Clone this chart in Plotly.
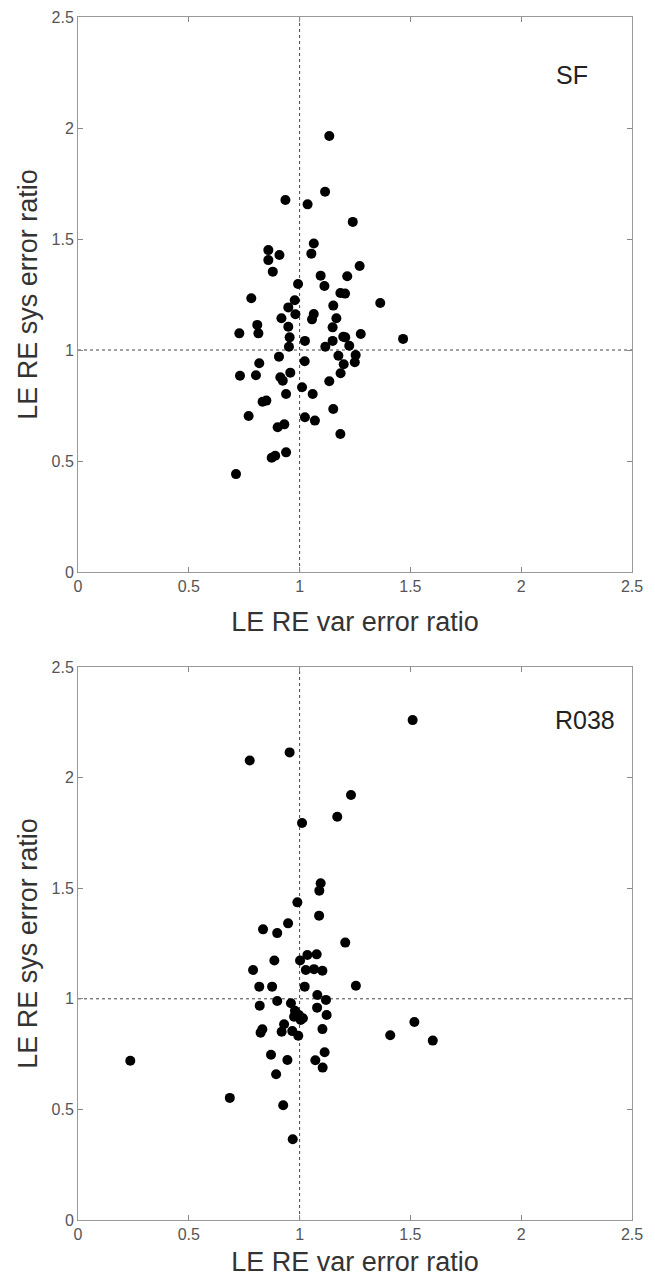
import plotly.graph_objects as go

# ---- Data: SF panel ----
sf_x = [1.134, 1.115, 0.936, 1.036, 1.240, 0.859, 1.064, 0.909, 1.053, 0.859,
        0.879, 1.271, 1.095, 1.215, 0.993, 1.112, 1.184, 1.205, 0.782, 0.978,
        1.152, 1.364, 0.949, 0.981, 1.064, 1.056, 0.918, 1.166, 0.809, 0.949,
        1.149, 0.728, 0.814, 0.955, 1.024, 1.197, 1.206, 1.276, 1.467, 1.149,
        0.952, 1.116, 1.224, 0.907, 1.175, 1.253, 0.818, 1.023, 1.199, 1.249,
        0.731, 0.803, 0.913, 0.924, 0.958, 1.185, 1.134, 1.011, 0.939, 1.059,
        0.833, 0.850, 1.152, 0.770, 1.024, 1.069, 0.901, 0.931, 1.184, 0.874,
        0.890, 0.939, 0.713]
sf_y = [1.964, 1.713, 1.676, 1.656, 1.577, 1.450, 1.480, 1.428, 1.434, 1.405,
        1.353, 1.378, 1.335, 1.332, 1.297, 1.288, 1.257, 1.254, 1.233, 1.224,
        1.200, 1.212, 1.192, 1.161, 1.162, 1.138, 1.143, 1.143, 1.113, 1.105,
        1.102, 1.075, 1.075, 1.057, 1.041, 1.060, 1.057, 1.072, 1.050, 1.041,
        1.015, 1.015, 1.019, 0.970, 0.974, 0.977, 0.940, 0.949, 0.936, 0.945,
        0.884, 0.886, 0.877, 0.862, 0.898, 0.895, 0.859, 0.832, 0.802, 0.802,
        0.767, 0.772, 0.734, 0.703, 0.697, 0.682, 0.652, 0.665, 0.622, 0.515,
        0.524, 0.539, 0.441]

# ---- Data: R038 panel ----
r038_x = [1.510, 0.955, 0.775, 1.232, 1.170, 1.011, 1.095, 1.089, 0.990, 1.088,
          0.948, 0.835, 0.899, 1.206, 1.035, 1.077, 1.002, 0.886, 0.790, 1.028,
          1.065, 1.103, 1.254, 0.818, 0.876, 1.023, 1.080, 1.119, 0.899, 0.961,
          0.820, 1.079, 0.979, 0.997, 1.015, 0.975, 1.005, 1.122, 0.930, 0.832,
          0.824, 0.919, 0.967, 0.994, 1.103, 1.409, 1.518, 1.601, 0.871, 1.113,
          0.945, 1.071, 1.104, 0.894, 0.685, 0.926, 0.969, 0.236]
r038_y = [2.260, 2.114, 2.077, 1.921, 1.823, 1.795, 1.522, 1.489, 1.436, 1.376,
          1.341, 1.314, 1.297, 1.254, 1.198, 1.201, 1.173, 1.173, 1.130, 1.130,
          1.134, 1.127, 1.059, 1.055, 1.055, 1.055, 1.017, 0.995, 0.990, 0.980,
          0.969, 0.960, 0.946, 0.927, 0.912, 0.919, 0.904, 0.927, 0.885, 0.862,
          0.847, 0.851, 0.854, 0.833, 0.863, 0.835, 0.895, 0.811, 0.747, 0.758,
          0.723, 0.722, 0.689, 0.659, 0.552, 0.519, 0.365, 0.720]

tick_vals = [0, 0.5, 1, 1.5, 2, 2.5]
tick_text = ["0", "0.5", "1", "1.5", "2", "2.5"]
panel_labels = ["SF", "R038"]
x_title = "LE RE var error ratio"
y_title = "LE RE sys error ratio"

W, H = 655, 1277
left_px, right_px = 78, 632          # plot box edges on the page
top_px, bottom_px = 17, 1220
top_panel_bottom, bottom_panel_top = 572, 667
ML, MR, MT, MB = left_px, W - right_px, top_px, H - bottom_px
plot_h = H - MT - MB
top_dom = [(bottom_px - top_panel_bottom) / plot_h, 1.0]
bot_dom = [0.0, (bottom_px - bottom_panel_top) / plot_h]

fig = go.Figure()
marker = dict(color="black", size=10, line=dict(width=0))
fig.add_trace(go.Scatter(x=sf_x, y=sf_y, mode="markers", marker=marker,
                         xaxis="x", yaxis="y", showlegend=False))
fig.add_trace(go.Scatter(x=r038_x, y=r038_y, mode="markers", marker=marker,
                         xaxis="x2", yaxis="y2", showlegend=False))

tick_font = dict(family="Liberation Sans Narrow, Liberation Sans, Arial", size=16, color="#555555")
title_font = dict(family="Liberation Sans, Arial", size=27, color="#333333")


def ax(anchor, domain, title_text, standoff):
    return dict(
        range=[0, 2.5], domain=domain, anchor=anchor,
        tickvals=tick_vals, ticktext=tick_text,
        ticks="inside", ticklen=5, tickcolor="#888888", tickwidth=1,
        showline=True, linecolor="#999999", linewidth=1, mirror="allticks",
        showgrid=False, zeroline=False, tickfont=tick_font, automargin=False,
        title=dict(text=title_text, font=title_font, standoff=standoff),
        fixedrange=True,
    )


fig.update_layout(
    template="none",
    width=W, height=H,
    margin=dict(l=ML, r=MR, t=MT, b=MB, autoexpand=False),
    paper_bgcolor="white", plot_bgcolor="white",
    xaxis=ax("y", [0, 1], x_title, 17),
    yaxis=ax("x", top_dom, y_title, 6),
    xaxis2=ax("y2", [0, 1], x_title, 12),
    yaxis2=ax("x2", bot_dom, y_title, 6),
)

for xr, yr in [("x", "y"), ("x2", "y2")]:
    fig.add_shape(type="line", xref=xr, yref=yr, x0=1, x1=1, y0=0, y1=2.5,
                  line=dict(color="#444444", width=1, dash="dot"), layer="below")
    fig.add_shape(type="line", xref=xr, yref=yr, x0=0, x1=2.5, y0=1, y1=1,
                  line=dict(color="#444444", width=1, dash="dot"), layer="below")

label_font = dict(family="Liberation Sans, Arial", size=25, color="#222222")
fig.add_annotation(x=2.23, y=2.24, xref="x", yref="y", text=panel_labels[0],
                   showarrow=False, font=label_font)
fig.add_annotation(x=2.29, y=2.26, xref="x2", yref="y2", text=panel_labels[1],
                   showarrow=False, font=label_font)

# remove the default 8px page margin so the figure fills the window exactly
fig.write_html("out.html",
               config={"displayModeBar": False},
               post_script="document.body.style.margin='0';document.body.style.overflow='hidden';")
